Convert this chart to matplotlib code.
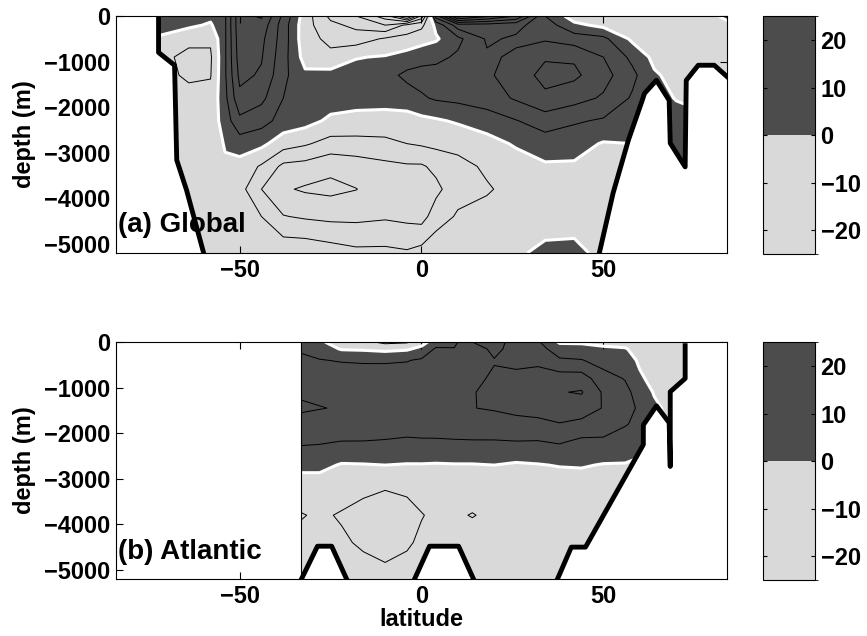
import numpy as np
import matplotlib.pyplot as plt
from matplotlib.colors import ListedColormap, BoundaryNorm
from matplotlib.cm import ScalarMappable

plt.rcParams['font.family'] = ['Liberation Sans', 'DejaVu Sans']
plt.rcParams['font.weight'] = 'bold'
plt.rcParams['axes.labelweight'] = 'bold'
plt.rcParams['contour.negative_linestyle'] = 'solid'

LIGHT = '#d9d9d9'
DARK = '#4c4c4c'
XLIM = (-84, 84)
YLIM = (-5200, 0)

# ---- global overturning (Sv), one list per latitude, top to bottom
glb_lat = [-72, -64, -58, -54, -50, -44, -38, -32, -25, -18, -10, -4, 0, 4,
           10, 18, 26, 34, 42, 50, 58, 64, 70, 76, 84]
glb_depth = [0, -200, -500, -900, -1300, -1800, -2300, -2800, -3300, -3800, -4400, -5200]
glb_psi = [
    [2, 1.5, -0.5, -3, -3, -3, -3, -3, -3, -3, -3, -3],
    [2, 0.8, -3, -5, -4.5, -3, -2.5, -2, -2, -2, -2, -2],
    [1, -0.5, -3.5, -4.5, -4.2, -3, -2.5, -2, -2, -2, -2, -2],
    [3.5, 3.5, 3.5, 3.5, 3.5, 3, 2, 0.3, -0.5, -1.5, -2, -2],
    [15, 15, 14.5, 14, 13, 11, 7, 2, -1.5, -2.5, -2.5, -2],
    [16.5, 14.5, 13, 12.3, 11.5, 9, 5.5, 1, -4.5, -8, -4, -2],
    [7, 6, 6, 5.5, 5, 4, 2.5, -2.2, -9, -11.5, -7.8, -1],
    [-2, -2.5, -2.5, -1.5, 0.8, 1.5, 1.5, -3.5, -9.5, -12.5, -8.5, -1],
    [-9, -7, -5, -3, 1.5, 2, -0.8, -5.5, -11, -13, -9, -2],
    [-12, -9, -6, -0.2, 1.5, 1.2, -1, -5.5, -10, -12.1, -9, -3],
    [-18, -12, -3.5, 0.3, 2.5, 1.5, -1.5, -5, -9, -10, -8.5, -3],
    [-30, -7, -2.5, 1.5, 5, 2, -1.5, -4, -8.5, -9.5, -9, -3.5],
    [-15, -5, -1.5, 2.5, 5.5, 3.5, -1, -3.5, -8.5, -9.5, -9.5, -2.5],
    [10, 1, -0.5, 3, 5.5, 4.5, -0.5, -3, -7, -9, -6, -1],
    [30, 10, 3, 4.6, 5.5, 5, 0.5, -3, -5, -5.5, -3.5, -1],
    [25, 10, 8.5, 7.5, 7.5, 6, 2, -1.5, -3.5, -4.3, -3, -1],
    [20, 9, 7.5, 8.5, 9.5, 8.5, 3.8, 0.5, -2, -3, -2, -0.5],
    [4, 6, 7.5, 11.5, 13.5, 11, 6, 2, -0.5, -2, -1.5, 0.8],
    [-2, 1, 6, 11.5, 12.8, 9.5, 4.5, 1.5, -0.5, -2, -1.5, 1],
    [-3, -1, 5, 8, 9.5, 7.5, 3.5, -0.3, -2, -2, -1.5, -1],
    [-4, -2.5, -0.8, 3, 5, 3.5, 2, 0, -2, -2, -2, -2],
    [-4, -3.5, -2.5, -1, 0.5, 1.5, 1.5, 1, 1, 1, 1, 1],
    [-3, -3, -2.5, -2, -1.2, -0.2, 1.5, 1.5, 1.5, 1, 1, 1],
    [-2.5, -2.5, -2, -1.5, -1, -0.5, 0.5, 1, 1, 1, 1, 1],
    [1, -1, -1.5, -1.5, -1, -0.5, 0.5, 1, 1, 1, 1, 1],
]

# global bottom topography
glb_s_lat = [-72.3, -72.3, -67.9, -67.3, -64.6, -59.9]
glb_s_dep = [-50, -800, -1080, -3160, -3820, -5200]
glb_n_lat = [48.9, 52.7, 56.9, 60.7, 61.3, 64.6, 68.1, 68.4, 72.5, 72.8, 76.1, 80.5, 84.3]
glb_n_dep = [-5200, -3880, -2720, -1850, -1700, -1410, -1850, -2790, -3310, -1410,
             -1080, -1080, -1350]

# ---- Atlantic overturning (Sv)
atl_lat = [-33, -28, -22, -16, -10, -4, 0, 4, 9, 14, 20, 26, 32, 38, 44, 50, 56,
           60, 64, 68, 72.5]
atl_depth = [0, -150, -400, -800, -1100, -1450, -1800, -2200, -2700, -3200, -3800,
             -4400, -5200]
atl_psi = [
    [2, 3, 5.5, 7, 7.6, 8.4, 7, 4.5, 1, -2, -4.2, -3, -2],
    [0.5, 2, 4.2, 6.5, 7.4, 8.1, 6.8, 4.3, 1, -2, -3.5, -3, -2],
    [-1.5, -0.3, 3.7, 6.5, 7.3, 7.8, 6.8, 3.8, -0.3, -2.5, -4.3, -3.5, -2],
    [-3, -0.5, 3.5, 6.3, 7.2, 7.6, 6.5, 3.8, -0.2, -3.5, -4.8, -4.5, -2.5],
    [-5, -1, 3.5, 6.2, 7, 7.4, 6.2, 3.6, 0, -3.9, -5, -4.6, -3.5],
    [-4.5, -0.5, 3.8, 6, 6.8, 7.2, 6, 3.2, -0.2, -3.7, -4.6, -4.3, -3],
    [-1.5, 1, 4.5, 6, 6.8, 7.2, 6, 3.4, -0.2, -3.2, -4.1, -3.6, -3],
    [2, 4.5, 5.5, 6.2, 7, 7.4, 6.1, 3.4, -0.3, -3, -3.6, -3.2, -2.5],
    [3, 4.2, 6, 7, 7.6, 7.8, 6.5, 3.5, -0.2, -3, -3.7, -3, -2.5],
    [8, 6, 6.5, 7.2, 7.8, 7.9, 6.6, 3.6, -0.2, -3, -4.1, -3, -2.5],
    [10, 9, 7.8, 8.5, 9, 8.4, 6, 3.7, 0, -2.8, -3.5, -3, -2.5],
    [6, 6.5, 7.2, 8.8, 9.8, 9, 6.8, 3.8, -0.5, -2.5, -3, -2.8, -2.5],
    [4.5, 5.5, 7.2, 9.5, 10.8, 9.5, 7, 3.7, -0.2, -2.5, -2.8, -2.6, -2.5],
    [-0.5, 2, 4.5, 10, 11.8, 10.5, 7.8, 4.3, 0.2, -2.3, -2.5, -2.5, -2.5],
    [-0.5, 1.5, 4.2, 10, 12.3, 10, 7, 3, 0.3, -2, -2.3, -2.3, -2.3],
    [-0.8, 0.5, 2.5, 5.5, 7.5, 7.8, 6.5, 3, -0.2, -1.5, -2, -2, -2],
    [-1.5, 0.3, 2.5, 3.8, 5, 5.2, 4.3, 2, -0.2, -1.5, -2, -2, -2],
    [-2, -1.5, -0.8, 0.8, 2.5, 3.5, 3, 1, -0.5, -1.5, -2, -2, -2],
    [-2.5, -2.5, -2, -1.5, -0.3, 0.8, 1, 0.5, -0.5, -1, -1, -1, -1],
    [-2, -2, -2, -1.5, -1, -0.8, -0.5, -0.5, -0.5, -0.5, -0.5, -0.5, -0.5],
    [-1.5, -1.5, -1.5, -1, -1, -0.8, -0.5, -0.5, -0.5, -0.5, -0.5, -0.5, -0.5],
]

# Atlantic bottom topography
atl_b1_lat = [-33, -28.6, -24.7, -20.6]
atl_b1_dep = [-5200, -4480, -4480, -5200]
atl_b2_lat = [-1.9, 2.2, 10.2, 14.3]
atl_b2_dep = [-5200, -4480, -4480, -5200]
atl_n_lat = [37.4, 41.2, 45.1, 61.0, 61.0, 64.6, 68.1, 68.4, 68.4, 72.5, 72.5]
atl_n_dep = [-5200, -4500, -4500, -2250, -1820, -1400, -1770, -2730, -1090, -800, -80]

line_levels = [v for v in range(-40, 41, 4) if v != 0]
FS = 17


def draw_field(ax, lat, depth, psi):
    z = np.array(psi, dtype=float).T
    ax.contourf(lat, depth, z, levels=[-100, 0, 100], colors=[LIGHT, DARK],
                antialiased=False, zorder=1)
    ax.contour(lat, depth, z, levels=line_levels, colors='k', linewidths=0.7, zorder=2)
    ax.contour(lat, depth, z, levels=[0], colors='w', linewidths=2.2, zorder=2)


def style_axes(ax, label):
    ax.set_xlim(XLIM)
    ax.set_ylim(YLIM)
    ax.set_xticks([-50, 0, 50])
    ax.set_yticks(range(-5000, 1, 1000))
    ax.tick_params(direction='in', top=True, right=True, length=5, labelsize=FS, pad=4)
    for s in ax.spines.values():
        s.set_linewidth(0.8)
        s.set_zorder(7)
    ax.set_ylabel('depth (m)', fontsize=FS, labelpad=6)
    ax.text(XLIM[0] + 0.5, -4750, label, fontsize=20, fontweight='bold',
            va='baseline', ha='left', zorder=6)


def add_cbar(fig, rect):
    cax = fig.add_axes(rect)
    sm = ScalarMappable(norm=BoundaryNorm([-25, 0, 25], 2),
                        cmap=ListedColormap([LIGHT, DARK]))
    cb = fig.colorbar(sm, cax=cax, ticks=[-20, -10, 0, 10, 20])
    cb.ax.tick_params(direction='in', length=3, left=True, right=True, labelsize=FS, pad=4)
    cb.outline.set_linewidth(0.8)


fig = plt.figure(figsize=(8.67, 6.36), dpi=100)

ax1 = fig.add_axes([0.1338, 0.6022, 0.7047, 0.3726])
draw_field(ax1, glb_lat, glb_depth, glb_psi)
ax1.fill_betweenx(glb_s_dep, XLIM[0], glb_s_lat, color='w', lw=0, zorder=3)
ax1.fill_between(glb_n_lat, glb_n_dep, YLIM[0], color='w', lw=0, zorder=3)
ax1.plot(glb_s_lat, glb_s_dep, 'k', lw=3.5, zorder=4)
ax1.plot(glb_n_lat, glb_n_dep, 'k', lw=3.5, zorder=4)
style_axes(ax1, '(a) Global')

ax2 = fig.add_axes([0.1338, 0.0896, 0.7047, 0.3726])
draw_field(ax2, atl_lat, atl_depth, atl_psi)
for la, de in [(atl_b1_lat, atl_b1_dep), (atl_b2_lat, atl_b2_dep)]:
    ax2.fill(la, de, color='w', lw=0, zorder=3)
    ax2.plot(la, de, 'k', lw=3.5, zorder=4)
# everything east of / below the northern Atlantic boundary is land (white)
ax2.fill(atl_n_lat + [XLIM[1], XLIM[1]], atl_n_dep + [YLIM[1], YLIM[0]],
         color='w', lw=0, zorder=3)
ax2.plot(atl_n_lat, atl_n_dep, 'k', lw=3.5, zorder=4)
ax2.plot([atl_lat[0], atl_lat[0]], YLIM, 'k', lw=0.8, zorder=4)
style_axes(ax2, '(b) Atlantic')
ax2.set_xlabel('latitude', fontsize=FS, labelpad=0)

add_cbar(fig, [0.880, 0.6006, 0.060, 0.374])
add_cbar(fig, [0.880, 0.0880, 0.060, 0.374])

fig.savefig('out.png', dpi=100)
